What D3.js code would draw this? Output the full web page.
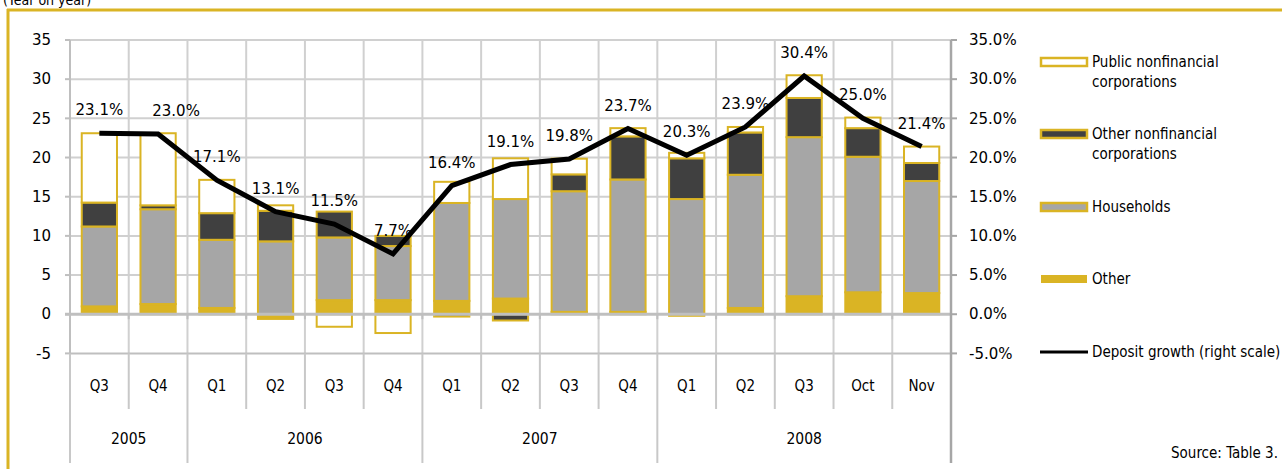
<!DOCTYPE html>
<html>
<head>
<meta charset="utf-8">
<script src="https://cdn.jsdelivr.net/npm/d3@7"></script>
<style>
  body { margin: 0; background: #fff; }
  svg { display: block; font-family: "DejaVu Sans Condensed", "DejaVu Sans", sans-serif; font-stretch: condensed; }
  .num { font-family: "DejaVu Sans", sans-serif; font-stretch: normal; }
</style>
</head>
<body>
<svg id="chart" width="1282" height="469"></svg>
<script>
// Données
var periods = ["Q3", "Q4", "Q1", "Q2", "Q3", "Q4", "Q1", "Q2", "Q3", "Q4", "Q1", "Q2", "Q3", "Oct", "Nov"];
var years = ["2005", "2006", "2007", "2008"];
var yearCounts = [2, 4, 4, 5];

var other      = [1.0, 1.3, 0.8, -0.6, 1.8, 1.8, 1.7, 2.0, 0.3, 0.3, -0.2, 0.8, 2.3, 2.8, 2.7];
var households = [10.2, 12.1, 8.7, 9.3, 8.0, 6.9, 12.5, 12.7, 15.4, 16.9, 14.7, 17.0, 20.3, 17.3, 14.3];
var otherNonfin = [3.05, 0.5, 3.4, 3.9, 3.3, 1.3, -0.3, -0.8, 2.15, 5.5, 5.2, 5.4, 5.0, 3.65, 2.3];
var publicNonfin = [8.85, 9.2, 4.25, 0.7, -1.6, -2.4, 2.7, 5.2, 2.0, 1.05, 0.7, 0.7, 2.9, 1.35, 2.1];
var depositGrowth = [23.1, 23.0, 17.1, 13.1, 11.5, 7.7, 16.4, 19.1, 19.8, 23.7, 20.3, 23.9, 30.4, 25.0, 21.4];

var leftTicks = [-5, 0, 5, 10, 15, 20, 25, 30, 35];
var rightTicks = [-0.05, 0, 0.05, 0.10, 0.15, 0.20, 0.25, 0.30, 0.35];

var gold = "#dab424", dark = "#404040", light = "#a6a6a6", grid = "#d0d0d0";

var series = [
  { key: "other", name: "Other", values: other, fill: gold },
  { key: "households", name: "Households", values: households, fill: light },
  { key: "onf", name: "Other nonfinancial corporations", values: otherNonfin, fill: dark },
  { key: "pub", name: "Public nonfinancial corporations", values: publicNonfin, fill: "#ffffff" }
];

var svg = d3.select("#chart");

// cadre doré
svg.append("line").attr("x1", 8).attr("x2", 8).attr("y1", 9).attr("y2", 469)
  .attr("stroke", gold).attr("stroke-width", 3);
svg.append("line").attr("x1", 7).attr("x2", 1282).attr("y1", 10).attr("y2", 10)
  .attr("stroke", gold).attr("stroke-width", 3);

svg.append("text").attr("x", 3).attr("y", 5).attr("font-size", 14).attr("fill", "#000")
  .text("(Year on year)");

// Echelles
var x = d3.scaleBand().domain(d3.range(periods.length)).range([70, 951])
  .paddingInner(0.4).paddingOuter(0.2);
var y = d3.scaleLinear().domain([-5, 35]).range([353.4, 40]);
var yR = d3.scaleLinear().domain([-0.05, 0.35]).range([353.4, 40]);

var step = x.step();
var left = 70, right = 951;
function boundary(i) { return left + i * step; }

// Grille
svg.append("g").selectAll("line").data(leftTicks.filter(function(t) { return t !== 0 && t !== -5; }))
  .enter().append("line")
  .attr("x1", left).attr("x2", right)
  .attr("y1", function(d) { return y(d); }).attr("y2", function(d) { return y(d); })
  .attr("stroke", grid).attr("stroke-width", 2);
svg.append("g").selectAll("line").data(d3.range(1, periods.length))
  .enter().append("line")
  .attr("x1", boundary).attr("x2", boundary)
  .attr("y1", y(35)).attr("y2", y(-5))
  .attr("stroke", grid).attr("stroke-width", 2);

// Axe de gauche
svg.append("line").attr("x1", left).attr("x2", left).attr("y1", y(35)).attr("y2", y(-5))
  .attr("stroke", "#bfbfbf").attr("stroke-width", 2);
svg.append("g").selectAll("text").data(leftTicks).enter().append("text")
  .attr("class", "num")
  .attr("x", 51).attr("y", function(d) { return y(d); })
  .attr("dy", "0.35em").attr("text-anchor", "end").attr("font-size", 15)
  .text(function(d) { return d; });

// Barres empilées
var table = periods.map(function(p, i) {
  var row = { i: i };
  series.forEach(function(s) { row[s.key] = s.values[i]; });
  return row;
});
var stack = d3.stack().keys(series.map(function(s) { return s.key; }))
  .offset(d3.stackOffsetDiverging);
var stacked = stack(table);

stacked.forEach(function(layer, k) {
  svg.append("g").selectAll("rect").data(layer).enter().append("rect")
    .attr("x", function(d, i) { return x(i); })
    .attr("width", x.bandwidth())
    .attr("y", function(d) { return y(Math.max(d[0], d[1])); })
    .attr("height", function(d) { return Math.abs(y(d[0]) - y(d[1])); })
    .attr("fill", series[k].fill)
    .attr("stroke", gold).attr("stroke-width", 2);
});

// Axe -5 (bas) et axe zéro
svg.append("line").attr("x1", left).attr("x2", right).attr("y1", y(-5)).attr("y2", y(-5))
  .attr("stroke", "#bfbfbf").attr("stroke-width", 2);
svg.append("line").attr("x1", left - 5).attr("x2", right).attr("y1", y(0)).attr("y2", y(0))
  .attr("stroke", "#bfbfbf").attr("stroke-width", 3);
svg.append("g").selectAll("line").data(d3.range(0, periods.length + 1))
  .enter().append("line")
  .attr("x1", boundary).attr("x2", boundary)
  .attr("y1", y(0)).attr("y2", y(0) + 5)
  .attr("stroke", "#bfbfbf").attr("stroke-width", 2);
svg.append("g").selectAll("line").data(leftTicks).enter().append("line")
  .attr("x1", left - 5).attr("x2", left)
  .attr("y1", function(d) { return y(d); }).attr("y2", function(d) { return y(d); })
  .attr("stroke", "#bfbfbf").attr("stroke-width", 2);

// Axe des catégories (trimestres et années)
var yearStarts = [];
var acc = 0;
yearCounts.forEach(function(n) { yearStarts.push(acc); acc += n; });

svg.append("g").selectAll("line").data(d3.range(0, periods.length + 1))
  .enter().append("line")
  .attr("x1", boundary).attr("x2", boundary)
  .attr("y1", y(-5))
  .attr("y2", function(i) { return (i === 0 || i === periods.length || yearStarts.indexOf(i) >= 0) ? 463 : 409; })
  .attr("stroke", "#c8c8c8").attr("stroke-width", 2);

svg.append("g").selectAll("text").data(periods).enter().append("text")
  .attr("x", function(d, i) { return x(i) + x.bandwidth() / 2; })
  .attr("y", 386).attr("dy", "0.35em").attr("text-anchor", "middle").attr("font-size", 15)
  .text(function(d) { return d; });

svg.append("g").selectAll("text").data(years).enter().append("text")
  .attr("x", function(d, k) { return boundary(yearStarts[k]) + yearCounts[k] * step / 2; })
  .attr("y", 439).attr("dy", "0.35em").attr("text-anchor", "middle").attr("font-size", 15.5)
  .text(function(d) { return d; });

// Axe de droite
svg.append("line").attr("x1", right).attr("x2", right).attr("y1", y(35)).attr("y2", 463)
  .attr("stroke", "#a6a6a6").attr("stroke-width", 2.5);
svg.append("g").selectAll("line").data(rightTicks).enter().append("line")
  .attr("x1", right).attr("x2", right + 6)
  .attr("y1", function(d) { return yR(d); }).attr("y2", function(d) { return yR(d); })
  .attr("stroke", "#a6a6a6").attr("stroke-width", 2);
var pct = d3.format(".1%");
svg.append("g").selectAll("text").data(rightTicks).enter().append("text")
  .attr("class", "num")
  .attr("x", 969).attr("y", function(d) { return yR(d); })
  .attr("dy", "0.35em").attr("font-size", 15)
  .text(function(d) { return pct(d).replace("\u2212", "-"); });

// Courbe de croissance des dépôts
var line = d3.line()
  .x(function(d, i) { return x(i) + x.bandwidth() / 2; })
  .y(function(d) { return yR(d / 100); });
svg.append("path").datum(depositGrowth)
  .attr("fill", "none").attr("stroke", "#000").attr("stroke-width", 5)
  .attr("stroke-linejoin", "miter")
  .attr("d", line);

svg.append("g").selectAll("text").data(depositGrowth).enter().append("text")
  .attr("class", "num")
  .attr("x", function(d, i) { return x(i) + x.bandwidth() / 2 + (i === 1 ? 18 : 0); })
  .attr("y", function(d) { return yR(d / 100) - 18; })
  .attr("text-anchor", "middle").attr("font-size", 15)
  .text(function(d) { return d.toFixed(1) + "%"; });

// Légende
var legend = [
  { label: ["Public nonfinancial", "corporations"], fill: "#ffffff", stroke: gold, y: 62 },
  { label: ["Other nonfinancial", "corporations"], fill: dark, stroke: gold, y: 134 },
  { label: ["Households"], fill: light, stroke: gold, y: 207 },
  { label: ["Other"], fill: gold, stroke: "none", y: 279 }
];
legend.forEach(function(l) {
  svg.append("rect").attr("x", 1041).attr("y", l.y - 4).attr("width", 46).attr("height", 8)
    .attr("fill", l.fill).attr("stroke", l.stroke).attr("stroke-width", 2.5);
  l.label.forEach(function(t, j) {
    svg.append("text").attr("x", 1092).attr("y", l.y + j * 20).attr("dy", "0.35em")
      .attr("font-size", 15).text(t);
  });
});
svg.append("line").attr("x1", 1040).attr("x2", 1088).attr("y1", 352).attr("y2", 352)
  .attr("stroke", "#000").attr("stroke-width", 3);
svg.append("text").attr("x", 1092).attr("y", 352).attr("dy", "0.35em").attr("font-size", 15)
  .text("Deposit growth (right scale)");

svg.append("text").attr("x", 1278).attr("y", 458).attr("text-anchor", "end").attr("font-size", 15)
  .text("Source: Table 3.");
</script>
</body>
</html>
